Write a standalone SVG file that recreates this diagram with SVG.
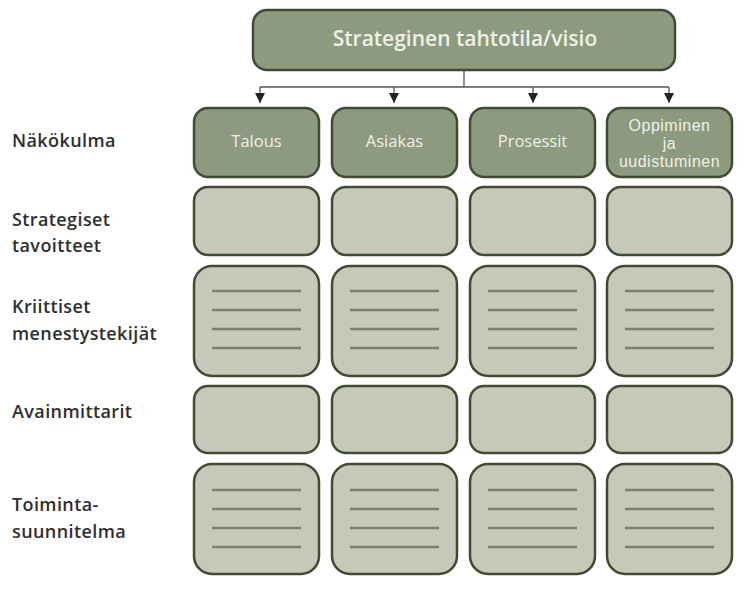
<svg xmlns="http://www.w3.org/2000/svg" width="745" height="592" viewBox="0 0 745 592">
<style>
.dark{fill:#8d9a80;stroke:#3f4b33;stroke-width:2.5}
.light{fill:#c6c8b9;stroke:#3f4b33;stroke-width:2.5}
.ln{stroke:#7b7e71;stroke-width:2.5;fill:none}
.con{stroke:#555;stroke-width:1.3;fill:none}
.wt{font-family:"Open Sans","Liberation Sans",sans-serif;fill:#eef0e6;text-anchor:middle;font-size:16.5px}
.wt2{font-family:"Liberation Sans",Arial,sans-serif;fill:#eef0e6;text-anchor:middle;font-size:16px;letter-spacing:0.5px}
.lbl{font-family:"Open Sans","Liberation Sans",sans-serif;fill:#2e2e2e;font-size:18px;font-weight:600;letter-spacing:0.4px}
</style>
<defs>
<marker id="ah" viewBox="0 0 10 10" refX="10" refY="5" markerWidth="10" markerHeight="10" markerUnits="userSpaceOnUse" orient="auto">
<path d="M0,0 L10,5 L0,10 z" fill="#222"/>
</marker>
</defs>
<rect width="745" height="592" fill="#ffffff"/>
<g id="vision">
<rect class="dark" x="253" y="10" width="422" height="60" rx="14"/>
<text x="465" y="46" style="font-family:'Open Sans','Liberation Sans',sans-serif;fill:#eef0e6;text-anchor:middle;font-size:21px;font-weight:600">Strateginen tahtotila/visio</text>
</g>
<g id="connectors">
<path class="con" d="M464,70 V87 M260,87 H669"/>
<path class="con" d="M260,87 V103" marker-end="url(#ah)"/>
<path class="con" d="M394,87 V103" marker-end="url(#ah)"/>
<path class="con" d="M533,87 V103" marker-end="url(#ah)"/>
<path class="con" d="M669,87 V103" marker-end="url(#ah)"/>
</g>
<g id="labels">
<text class="lbl" x="12" y="147">Näkökulma</text>
<text class="lbl" x="12" y="226">Strategiset</text>
<text class="lbl" x="12" y="252">tavoitteet</text>
<text class="lbl" x="12" y="313">Kriittiset</text>
<text class="lbl" x="12" y="340">menestystekijät</text>
<text class="lbl" x="12" y="418">Avainmittarit</text>
<text class="lbl" x="12" y="511">Toiminta-</text>
<text class="lbl" x="12" y="538">suunnitelma</text>
</g>
<g id="perspectives">
<g id="p-talous"><rect class="dark" x="194" y="108" width="125" height="69" rx="14"/><text class="wt" x="256.5" y="147">Talous</text></g>
<g id="p-asiakas"><rect class="dark" x="332" y="108" width="125" height="69" rx="14"/><text class="wt" x="394.5" y="147">Asiakas</text></g>
<g id="p-prosessit"><rect class="dark" x="470" y="108" width="125" height="69" rx="14"/><text class="wt" x="532.5" y="147">Prosessit</text></g>
<g id="p-oppiminen"><rect class="dark" x="607" y="108" width="125" height="69" rx="14"/><text class="wt2" x="669.5" y="131">Oppiminen</text><text class="wt2" x="669.5" y="149">ja</text><text class="wt2" x="669.5" y="167">uudistuminen</text></g>
</g>
<g id="goals">
<rect class="light" x="194" y="187" width="125" height="68" rx="14"/>
<rect class="light" x="332" y="187" width="125" height="68" rx="14"/>
<rect class="light" x="470" y="187" width="125" height="68" rx="14"/>
<rect class="light" x="607" y="187" width="125" height="68" rx="14"/>
</g>
<g id="csf">
<rect class="light" x="194" y="266" width="125" height="110" rx="18"/>
<rect class="light" x="332" y="266" width="125" height="110" rx="18"/>
<rect class="light" x="470" y="266" width="125" height="110" rx="18"/>
<rect class="light" x="607" y="266" width="125" height="110" rx="18"/>
<path class="ln" d="M212,291 H301 M212,310 H301 M212,329 H301 M212,348 H301"/>
<path class="ln" d="M350,291 H439 M350,310 H439 M350,329 H439 M350,348 H439"/>
<path class="ln" d="M488,291 H577 M488,310 H577 M488,329 H577 M488,348 H577"/>
<path class="ln" d="M625,291 H714 M625,310 H714 M625,329 H714 M625,348 H714"/>
</g>
<g id="kpi">
<rect class="light" x="194" y="386" width="125" height="67" rx="14"/>
<rect class="light" x="332" y="386" width="125" height="67" rx="14"/>
<rect class="light" x="470" y="386" width="125" height="67" rx="14"/>
<rect class="light" x="607" y="386" width="125" height="67" rx="14"/>
</g>
<g id="actionplan">
<rect class="light" x="194" y="464" width="125" height="110" rx="18"/>
<rect class="light" x="332" y="464" width="125" height="110" rx="18"/>
<rect class="light" x="470" y="464" width="125" height="110" rx="18"/>
<rect class="light" x="607" y="464" width="125" height="110" rx="18"/>
<path class="ln" d="M212,490 H301 M212,509 H301 M212,528 H301 M212,547 H301"/>
<path class="ln" d="M350,490 H439 M350,509 H439 M350,528 H439 M350,547 H439"/>
<path class="ln" d="M488,490 H577 M488,509 H577 M488,528 H577 M488,547 H577"/>
<path class="ln" d="M625,490 H714 M625,509 H714 M625,528 H714 M625,547 H714"/>
</g>
</svg>
